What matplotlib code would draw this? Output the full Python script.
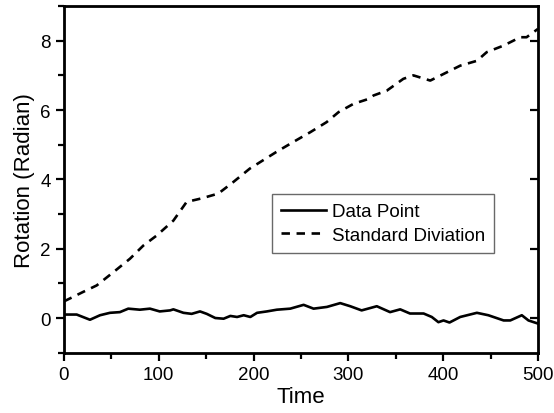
import numpy as np
import matplotlib
matplotlib.use("Agg")
import matplotlib.pyplot as plt
from matplotlib.ticker import MultipleLocator

plt.rcParams['font.family'] = ['Liberation Sans', 'DejaVu Sans']

# Standard deviation (dashed)
std_t = [0, 20, 34.5, 52, 69.6, 83.7, 97.8, 115.4, 129.4, 145, 162.8, 178.5, 196, 224,
         242, 259.8, 277, 289.7, 305.5, 321.3, 326.6, 340.6, 352.9, 358, 368.6, 386.4,
         400.4, 418, 435.6, 446, 463.8, 481.3, 488, 500]
std_v = [0.48, 0.75, 0.94, 1.32, 1.71, 2.09, 2.38, 2.81, 3.35, 3.45, 3.59, 3.92, 4.31, 4.79,
         5.08, 5.36, 5.65, 5.94, 6.18, 6.32, 6.42, 6.56, 6.80, 6.90, 7.00, 6.85,
         7.04, 7.28, 7.42, 7.67, 7.86, 8.10, 8.10, 8.34]

# Data point (solid)
dp_t = [0, 13.4, 27.4, 38, 48.5, 59, 67.8, 80, 90.7, 101, 112, 115.4, 126, 134.7, 143.5,
        150.6, 159.6, 168.4, 175.5, 182.6, 189.6, 196.6, 203.7, 214, 224.6, 238.7, 252.8,
        263.3, 277.4, 291.4, 302, 314, 330, 344, 354.7, 365, 379.4, 388, 395, 400.4, 406.7,
        418, 435.6, 447.7, 463.8, 470.8, 483, 490, 500]
dp_v = [0.10, 0.10, -0.05, 0.08, 0.15, 0.17, 0.27, 0.24, 0.27, 0.19, 0.22, 0.25, 0.15, 0.12,
        0.19, 0.12, 0.0, -0.02, 0.06, 0.03, 0.08, 0.03, 0.15, 0.19, 0.24, 0.27, 0.38,
        0.27, 0.32, 0.43, 0.34, 0.22, 0.34, 0.17, 0.25, 0.13, 0.13, 0.03, -0.12, -0.07, -0.13,
        0.03, 0.15, 0.08, -0.07, -0.07, 0.08, -0.07, -0.16]

fig = plt.figure(figsize=(5.54, 4.14), dpi=100)
ax = fig.add_axes([0.1155, 0.1457, 0.8555, 0.8373])

ax.plot(dp_t, dp_v, color='black', lw=1.9, label='Data Point')
ax.plot(std_t, std_v, color='black', lw=1.9, ls=(0, (3.2, 2.5)), label='Standard Diviation')

ax.set_xlim(0, 500)
ax.set_ylim(-1, 9)
ax.xaxis.set_major_locator(MultipleLocator(100))
ax.xaxis.set_minor_locator(MultipleLocator(50))
ax.yaxis.set_major_locator(MultipleLocator(2))
ax.yaxis.set_minor_locator(MultipleLocator(1))

for s in ax.spines.values():
    s.set_linewidth(2)

ax.tick_params(which='both', direction='out', width=1.6, labelsize=13.5, top=False, right=False)
ax.tick_params(which='major', length=6)
ax.tick_params(which='minor', length=4)

# inward major ticks on the right spine
ax2 = ax.twinx()
ax2.set_ylim(ax.get_ylim())
ax2.yaxis.set_major_locator(MultipleLocator(2))
ax2.tick_params(axis='y', direction='in', length=6, width=1.6, labelright=False)
ax2.yaxis.set_minor_locator(MultipleLocator(1))
ax2.tick_params(axis='y', which='minor', length=0)

ax.set_xlabel('Time', fontsize=16, labelpad=2)
ax.set_ylabel('Rotation (Radian)', fontsize=16, labelpad=4)

leg = ax.legend(loc='upper left', bbox_to_anchor=(0.438, 0.458), fontsize=13.5,
                frameon=True, fancybox=False, handlelength=2.4, borderpad=0.5,
                labelspacing=0.32, handletextpad=0.3, borderaxespad=0)
leg.get_frame().set_edgecolor('#444444')
leg.get_frame().set_linewidth(1.0)

fig.savefig('out.png', dpi=100)
